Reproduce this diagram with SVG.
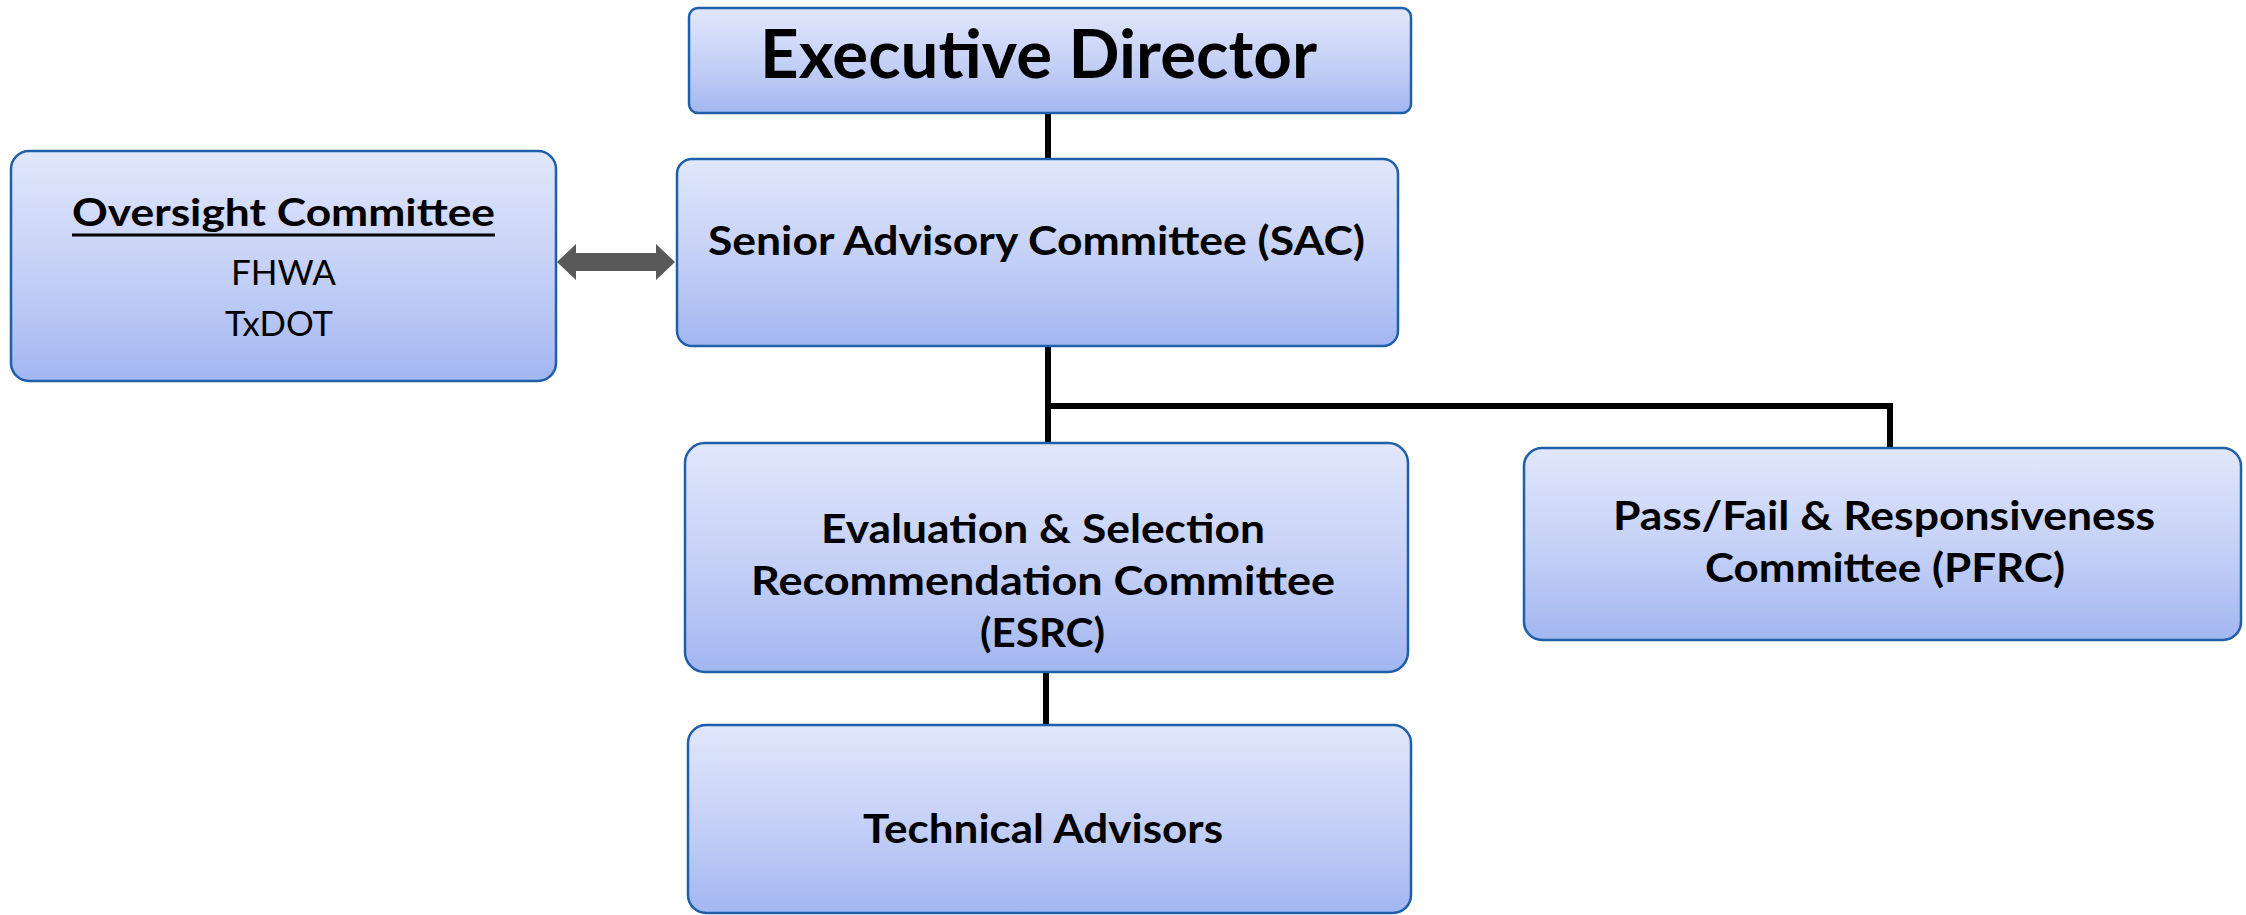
<svg xmlns="http://www.w3.org/2000/svg" width="2246" height="915" viewBox="0 0 2246 915">
<defs>
<linearGradient id="g" x1="0" y1="0" x2="0" y2="1">
<stop offset="0" stop-color="#e1e7fb"/>
<stop offset="0.55" stop-color="#c3cff6"/>
<stop offset="1" stop-color="#a2b6f0"/>
</linearGradient>
<style>
.box{fill:url(#g);stroke:#1f5faa;stroke-width:2.5}
.t{font-family:Lato,"Liberation Sans",sans-serif;font-weight:bold;fill:#000}
.r{font-family:Lato,"Liberation Sans",sans-serif;font-weight:normal;fill:#000}
.c{stroke:#000;stroke-width:6;fill:none}
</style>
</defs>
<rect width="2246" height="915" fill="#fff"/>
<g id="connectors">
<line class="c" x1="1048" y1="113" x2="1048" y2="159"/>
<line class="c" x1="1048" y1="346" x2="1048" y2="443"/>
<polyline class="c" points="1048,406 1890,406 1890,448" stroke-width="7"/>
<line class="c" x1="1046" y1="672" x2="1046" y2="725"/>
<polygon fill="#595959" points="557,262 576,244 576,253 656,253 656,244 675,262 656,280 656,271 576,271 576,280"/>
</g>
<g id="executive-director">
<rect class="box" x="689" y="8" width="722" height="105" rx="9"/>
<text class="t" x="760" y="78" font-size="66" textLength="557" lengthAdjust="spacingAndGlyphs">Executive Director</text>
</g>
<g id="oversight-committee">
<rect class="box" x="11" y="151" width="545" height="230" rx="18"/>
<text class="t" x="72" y="226" font-size="38" textLength="423" lengthAdjust="spacingAndGlyphs">Oversight Committee</text>
<line x1="72" y1="235" x2="495" y2="235" stroke="#000" stroke-width="3"/>
<text class="r" x="231" y="285" font-size="34" textLength="105" lengthAdjust="spacingAndGlyphs">FHWA</text>
<text class="r" x="225" y="336" font-size="34" textLength="108" lengthAdjust="spacingAndGlyphs">TxDOT</text>
</g>
<g id="sac">
<rect class="box" x="677" y="159" width="721" height="187" rx="15"/>
<text class="t" x="708" y="255" font-size="40" textLength="657" lengthAdjust="spacingAndGlyphs">Senior Advisory Committee (SAC)</text>
</g>
<g id="esrc">
<rect class="box" x="685" y="443" width="723" height="229" rx="20"/>
<text class="t" x="821" y="543" font-size="40" textLength="444" lengthAdjust="spacingAndGlyphs">Evaluation &amp; Selection</text>
<text class="t" x="751" y="595" font-size="40" textLength="584" lengthAdjust="spacingAndGlyphs">Recommendation Committee</text>
<text class="t" x="980" y="647" font-size="40" textLength="125" lengthAdjust="spacingAndGlyphs">(ESRC)</text>
</g>
<g id="pfrc">
<rect class="box" x="1524" y="448" width="717" height="192" rx="18"/>
<text class="t" x="1613" y="530" font-size="40" textLength="542" lengthAdjust="spacingAndGlyphs">Pass/Fail &amp; Responsiveness</text>
<text class="t" x="1705" y="582" font-size="40" textLength="360" lengthAdjust="spacingAndGlyphs">Committee (PFRC)</text>
</g>
<g id="technical-advisors">
<rect class="box" x="688" y="725" width="723" height="188" rx="18"/>
<text class="t" x="863" y="843" font-size="41" textLength="360" lengthAdjust="spacingAndGlyphs">Technical Advisors</text>
</g>
</svg>
